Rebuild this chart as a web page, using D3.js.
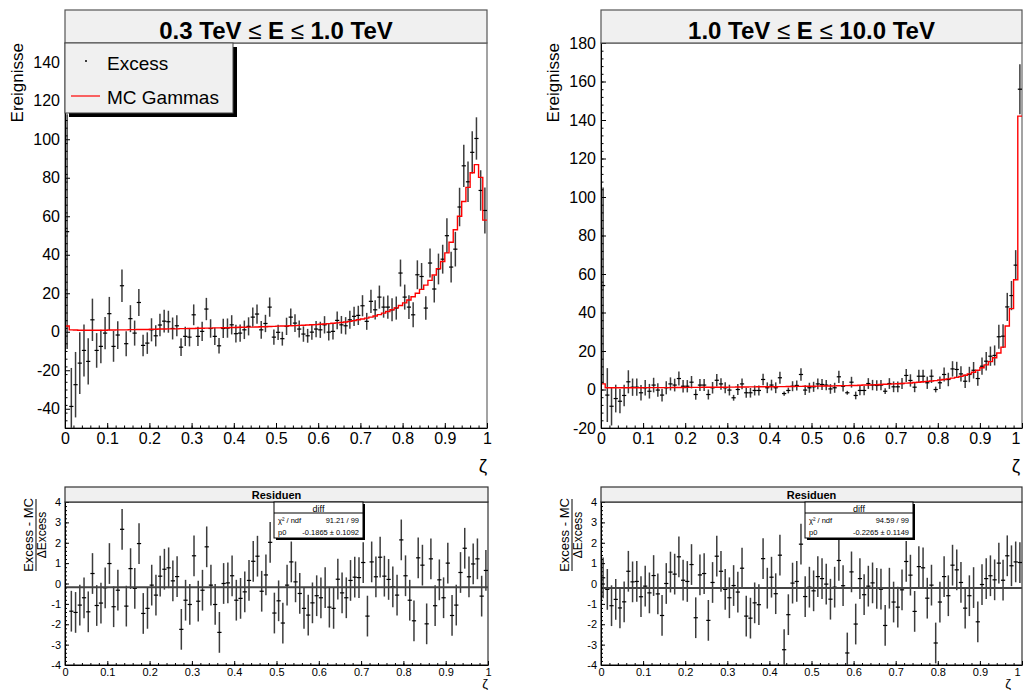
<!DOCTYPE html>
<html><head><meta charset="utf-8">
<script src="https://cdn.jsdelivr.net/npm/d3@7"></script>
<style>
body{margin:0;background:#fff}
svg{display:block}
text{font-family:"Liberation Sans",Arial,Helvetica,sans-serif;fill:#000}
</style>
</head><body>
<svg id="c" width="1024" height="690"></svg>
<script>
// ---------- data ----------
const binWidth = 0.01;
const zetaBins = d3.range(100).map(i => +((i + 0.5) * binWidth).toFixed(3)); // bin centres of ζ
const xTickValues = [0, 0.1, 0.2, 0.3, 0.4, 0.5, 0.6, 0.7, 0.8, 0.9, 1];
const lowYTicks = [-40, -20, 0, 20, 40, 60, 80, 100, 120, 140];
const highYTicks = [-20, 0, 20, 40, 60, 80, 100, 120, 140, 160, 180];
const residYTicks = [-4, -3, -2, -1, 0, 1, 2, 3, 4];

const lowTitle = "0.3 TeV ≤ E ≤ 1.0 TeV";
const highTitle = "1.0 TeV ≤ E ≤ 10.0 TeV";

const lowExcess = [52,-38.8,-27.5,-16.3,-9.7,-15.4,6.2,-9.7,-7.6,-0.7,
9.4,-7.6,-1.7,23.9,-6.2,6.8,-0.7,15.2,-7.1,-5.9,
1.0,-2.1,3.5,5.5,5.2,1.7,3.1,-8.0,-2.4,-2.8,
8.8,-2.4,0.2,11.8,1.7,-2.4,-7.3,1.7,1.9,3.6,
-1.0,-0.7,1.0,2.8,7.6,9.2,1.0,4.3,12.8,-2.8,
-0.3,-3.6,2.8,7.6,4.5,1.4,-1.2,-2.1,-0.2,1.4,
1.0,3.6,-0.2,0.2,5.9,3.6,3.1,6.2,8.0,8.5,
13.5,5.4,15.8,11.4,18.0,12.8,12.8,11.4,12.3,30.5,
18.0,12.8,8.8,29.6,28.7,12.3,35.7,22.2,32.6,37.7,
49.9,33.6,42.9,64.8,86.2,77.9,93.2,100.4,73.4,63];
const lowErr = [61,20,17,16,13.5,12,11,9,8.7,8.4,
8.7,8,7.2,8.5,6.5,7,6.5,7,5.6,5.6,
6,5.5,5.8,5.9,5.7,5.7,5.5,4.6,5,4.8,
5.4,5,5,5.8,4.8,4.5,4,5,5,5,
4.6,4.5,4.8,4.7,5,5,4.6,4.5,5,4,
4,3.6,4.5,4.5,4.6,4.4,4,3.6,4,4.2,
4.2,4.5,4.3,4.2,4.6,4.6,4.5,4.7,5,5,
5.5,4.4,6,5,6,5.5,6,6,6,7,
6.5,6.2,6.5,7.5,7,6.1,7.5,7,8,7.5,
9,8,9,10,11,10.5,11,11,10.5,12];
const lowMC = [3.0,1.0,0.9,0.8,0.8,0.8,0.8,0.8,0.8,0.8,
0.9,0.9,1.0,1.0,1.0,1.1,1.1,1.2,1.2,1.2,
1.3,1.3,1.4,1.4,1.5,1.5,1.5,1.6,1.6,1.7,
1.7,1.8,1.8,1.9,1.9,2.0,2.0,2.1,2.1,2.2,
2.2,2.3,2.3,2.4,2.4,2.5,2.6,2.6,2.7,2.8,
2.9,3.0,3.0,3.1,3.2,3.3,3.4,3.5,3.6,3.7,
3.9,4.0,4.2,4.4,4.6,4.8,5.1,5.4,5.8,6.2,
6.6,7.1,7.6,8.2,8.9,9.7,10.5,11.4,12.4,13.6,
15.0,16.5,18.2,20.0,22.0,24.2,26.7,29.5,32.8,36.5,
41.0,46.5,53.0,60.0,67.7,75.0,82.6,86.8,80.2,58.0];
const lowResid = [null,-1.36,-1.42,-1.06,-0.70,-1.39,0.49,-1.08,-0.96,-0.21,
0.98,-1.14,-0.33,2.66,-1.11,0.73,-0.24,1.96,-1.47,-1.22,
-0.08,-0.57,0.36,0.70,0.77,0.13,0.34,-2.25,-0.82,-1.03,
1.36,-0.87,-0.33,1.80,-0.08,-1.03,-2.40,0.0,0.03,0.38,
-0.82,-0.73,-0.41,0.15,1.09,1.34,-0.38,0.42,2.02,-1.45,
-0.85,-1.94,-0.08,1.06,0.08,-0.49,-1.22,-1.55,-0.95,-0.60,
-0.70,-0.20,-1.16,-1.22,0.21,-0.46,-0.70,0.15,0.31,0.29,
1.03,-1.60,1.06,0.33,1.29,0.36,0.20,-0.16,-0.57,2.14,
0.38,-0.82,-1.83,1.26,0.90,-1.98,1.21,-1.09,0.18,-0.70,
1.00,-1.57,-1.06,0.54,1.73,0.33,0.96,1.21,-0.62,0.64];
const lowFit = { chi2: "91.21 / 99", p0: -0.1865, p0Text: "-0.1865 ± 0.1092" };

const highExcess = [54,-2.9,-8.7,-4.7,-6.1,-3.1,4.0,1.2,1.2,-1.7,
0.9,-0.9,2.3,-0.3,-2.9,0.9,2.9,2.3,5.7,1.7,
1.7,3.8,-2.6,2.3,2.3,-2.6,0.9,4.8,2.9,0.9,
-0.3,-4.3,0.0,2.9,-1.7,-1.7,-0.5,-0.5,5.2,0.9,
2.3,0.9,6.1,-2.1,-0.5,1.7,2.1,7.8,-0.3,0.9,
1.4,2.9,2.6,2.3,0.3,0.9,6.6,1.7,-1.7,3.8,
-3.1,-0.5,-0.5,3.1,2.3,2.1,2.3,-0.9,3.1,1.4,
1.4,3.1,7.3,4.7,1.2,6.9,6.9,3.5,6.9,0.0,
3.5,7.8,5.2,10.7,10.4,8.1,4.3,7.8,10.0,5.7,
12.1,14.7,17.3,17.7,27.4,27.7,42.9,48.8,64.6,156];
const highErr = [51,14,10,7.2,6.3,5.6,6,4.5,4.5,4,
4,3.8,3.8,3.5,3.3,3.4,3.4,3.3,3.6,3.2,
3.2,3.2,2.7,3.1,3.1,2.6,3,3.2,3,2.9,
2.8,1.5,2.8,2.8,2.6,2.5,2.6,2.6,3,2.8,
2.8,2.8,3.1,1.1,1.5,2.6,2.6,3.2,2.5,2.6,
2.6,2.8,2.8,2.7,2.5,2.6,3.2,2.7,1.0,2.8,
2,2.5,2.5,2.8,2.7,2.7,2.7,1.5,2.8,2.8,
2.8,2.9,3.4,3.2,2.6,3.4,3.4,3.2,3.5,1.5,
3.3,3.6,3.5,4,4,4,3.5,4,4.3,3.8,
4.5,4.8,5,5.2,6.2,6.2,7.3,7.6,7.8,13];
const highMC = [2.9,0.9,0.9,0.9,0.9,0.9,0.9,0.9,0.9,0.9,
0.95,0.95,0.95,1.0,1.0,1.0,1.0,1.05,1.05,1.05,
1.1,1.1,1.1,1.1,1.15,1.15,1.15,1.2,1.2,1.2,
1.25,1.25,1.3,1.3,1.3,1.35,1.35,1.4,1.4,1.4,
1.45,1.45,1.5,1.5,1.55,1.55,1.6,1.6,1.65,1.7,
1.7,1.75,1.8,1.8,1.85,1.9,1.95,2.0,2.0,2.1,
2.1,2.2,2.3,2.3,2.4,2.5,2.6,2.7,2.8,2.9,
3.0,3.1,3.3,3.4,3.6,3.8,4.0,4.2,4.4,4.6,
4.9,5.2,5.5,5.9,6.3,6.8,7.4,8.1,9.0,10.0,
11.3,12.8,14.5,16.5,19.0,22.0,33.0,42.0,57.0,142.0];
const highResid = [0.28,-0.29,-1.09,-0.78,-1.2,-0.9,0.6,0.08,0.1,-0.65,
-0.13,-0.46,0.39,-0.51,-1.57,0.0,0.56,0.46,1.31,0.16,
0.1,0.93,-1.68,0.42,0.49,-1.81,0.05,1.34,0.6,-0.29,
-0.7,-0.1,-0.42,0.75,-1.6,-1.7,-0.95,-1.04,1.22,-0.23,
0.31,-0.5,1.39,-3.25,-1.53,0.02,0.1,1.93,-0.64,-0.18,
-0.36,0.34,0.24,-0.03,-0.77,-0.18,1.13,-0.11,-3.41,0.57,
-1.99,0.24,-0.55,-0.13,0.03,-0.24,-0.28,-2.06,-0.23,-0.91,
-1.16,-0.31,1.08,0.41,-1.37,0.83,0.77,-0.72,-0.08,-2.92,
-0.91,0.34,-0.6,0.9,0.67,0.05,-1.21,-0.6,-0.2,-1.88,
-0.05,0.24,0.38,0.18,1.0,0.16,1.36,0.87,1.06,1.03];
const highFit = { chi2: "94.59 / 99", p0: -0.2265, p0Text: "-0.2265 ± 0.1149" };

// ---------- drawing ----------
const svg = d3.select('#c');
const ERR_COL = '#3c3c3c';

function styleAxis(ax, fontSize) {
  ax.selectAll('path.domain').attr('stroke', '#000').attr('stroke-width', 1);
  ax.selectAll('.tick line').attr('stroke', '#000').attr('stroke-width', 1);
  ax.selectAll('.tick text').style('font-size', fontSize + 'px').attr('fill', '#000')
    .style('font-family', '"Liberation Sans",Arial,sans-serif');
}

function drawAxes(g, x, y, yTicks, o) {
  const yMinor = [];
  const step = o.yMinorStep;
  for (let v = o.yMin; v <= o.yMax + 1e-9; v = +(v + step).toFixed(4)) yMinor.push(v);
  const xMinor = d3.range(0, 51).map(i => i / 50);
  g.append('g').attr('transform', `translate(${o.left},0)`)
    .call(d3.axisLeft(y).tickValues(yMinor).tickSizeInner(-o.minor).tickSizeOuter(0).tickFormat(''))
    .call(a => { a.select('path.domain').remove(); a.selectAll('line').attr('stroke', '#000'); });
  g.append('g').attr('transform', `translate(0,${o.bottom})`)
    .call(d3.axisBottom(x).tickValues(xMinor).tickSizeInner(-o.minor).tickSizeOuter(0).tickFormat(''))
    .call(a => { a.select('path.domain').remove(); a.selectAll('line').attr('stroke', '#000'); });
  const ay = g.append('g').attr('transform', `translate(${o.left},0)`)
    .call(d3.axisLeft(y).tickValues(yTicks).tickSizeInner(-o.major).tickSizeOuter(0).tickPadding(o.yPad).tickFormat(d => String(d)));
  styleAxis(ay, o.font);
  const ax = g.append('g').attr('transform', `translate(0,${o.bottom})`)
    .call(d3.axisBottom(x).tickValues(xTickValues).tickSizeInner(-o.major).tickSizeOuter(0).tickPadding(o.xPad).tickFormat(d => String(d)));
  styleAxis(ax, o.font);
  // keep the last label inside the page for panels at the right edge
  if (o.edge) ax.selectAll('.tick text').filter(d => d === 1).attr('text-anchor', 'end').attr('dx', -2);
}

function titleText(g, str, cx, cy, size) {
  const t = g.append('text').attr('x', cx).attr('y', cy).attr('text-anchor', 'middle')
    .style('font-size', size + 'px').style('font-weight', 'bold');
  const parts = str.split('≤');
  parts.forEach((p, i) => {
    t.append('tspan').text(p);
    if (i < parts.length - 1) t.append('tspan').style('font-weight', 'normal').text('≤');
  });
}

function drawPoints(layer, x, y, vals, errs) {
  const pts = zetaBins.map((z, i) => ({ z, v: vals[i], e: errs[i] })).filter(d => d.v != null);
  layer.selectAll(null).data(pts).join('line')
    .attr('x1', d => x(d.z)).attr('x2', d => x(d.z))
    .attr('y1', d => y(d.v - d.e)).attr('y2', d => y(d.v + d.e))
    .attr('stroke', ERR_COL).attr('stroke-width', 1.5);
  layer.selectAll(null).data(pts).join('line')
    .attr('x1', d => x(d.z - binWidth / 2)).attr('x2', d => x(d.z + binWidth / 2))
    .attr('y1', d => y(d.v)).attr('y2', d => y(d.v))
    .attr('stroke', '#000').attr('stroke-width', 1.2);
}

function mainPanel(o) {
  const x = d3.scaleLinear([0, 1], [o.left, o.right]);
  const y = d3.scaleLinear([o.yMin, o.yMax], [o.bottom, o.top]);
  const g = svg.append('g');
  svg.append('clipPath').attr('id', o.id).append('rect')
    .attr('x', o.left).attr('y', o.top).attr('width', o.right - o.left).attr('height', o.bottom - o.top);
  g.append('rect').attr('x', o.left).attr('y', o.top).attr('width', o.right - o.left).attr('height', o.bottom - o.top)
    .attr('fill', '#fff').attr('stroke', '#666').attr('stroke-width', 1.2);
  const layer = g.append('g').attr('clip-path', `url(#${o.id})`);
  drawPoints(layer, x, y, o.values, o.errors);
  const steps = zetaBins.map((z, i) => [z - binWidth / 2, o.mc[i]]);
  steps.push([1, o.mc[o.mc.length - 1]]);
  layer.append('path').datum(steps)
    .attr('d', d3.line().x(d => x(d[0])).y(d => y(d[1])).curve(d3.curveStepAfter))
    .attr('fill', 'none').attr('stroke', '#ff0000').attr('stroke-width', 1.4);
  drawAxes(g, x, y, o.yTicks, { left: o.left, bottom: o.bottom, yMin: o.yMin, yMax: o.yMax, yMinorStep: 4,
    major: 5, minor: 2.5, yPad: 5, xPad: 5, font: 16, edge: o.right > 1000 });
  g.append('rect').attr('x', o.left).attr('y', 10).attr('width', o.right - o.left).attr('height', o.top - 10)
    .attr('fill', '#f0f0f0').attr('stroke', '#555').attr('stroke-width', 1.2);
  titleText(g, o.title, (o.left + o.right) / 2, 39, 24);
  g.append('text').attr('transform', `translate(${o.left - 42},${o.top}) rotate(-90)`).attr('text-anchor', 'end')
    .style('font-size', '17px').text('Ereignisse');
  g.append('text').attr('x', Math.min(o.right - 4, 1016)).attr('y', 472).attr('text-anchor', 'middle')
    .style('font-size', '19px').text('ζ');
  return { g, x, y };
}

function residPanel(o) {
  const top = 502, bottom = 665, frameTop = 487;
  const x = d3.scaleLinear([0, 1], [o.left, o.right]);
  const y = d3.scaleLinear([-4, 4], [bottom, top]);
  const g = svg.append('g');
  svg.append('clipPath').attr('id', o.id).append('rect')
    .attr('x', o.left).attr('y', top).attr('width', o.right - o.left).attr('height', bottom - top);
  g.append('rect').attr('x', o.left).attr('y', top).attr('width', o.right - o.left).attr('height', bottom - top)
    .attr('fill', '#fff').attr('stroke', '#333').attr('stroke-width', 1.2);
  const layer = g.append('g').attr('clip-path', `url(#${o.id})`);
  drawPoints(layer, x, y, o.values, o.values.map(() => 1));
  layer.append('line').attr('x1', o.left).attr('x2', o.right).attr('y1', y(o.fit.p0)).attr('y2', y(o.fit.p0))
    .attr('stroke', '#444').attr('stroke-width', 2);
  drawAxes(g, x, y, residYTicks, { left: o.left, bottom, yMin: -4, yMax: 4, yMinorStep: 0.2,
    major: 4, minor: 2, yPad: 4, xPad: 3, font: 11, edge: o.right > 1000 });
  g.append('rect').attr('x', o.left).attr('y', frameTop).attr('width', o.right - o.left).attr('height', top - frameTop)
    .attr('fill', '#f0f0f0').attr('stroke', '#333').attr('stroke-width', 1.2);
  g.append('text').attr('x', (o.left + o.right) / 2).attr('y', 499).attr('text-anchor', 'middle')
    .style('font-size', '11px').style('font-weight', 'bold').text('Residuen');
  const sx = o.statsX, sw = o.statsW, sy = 502, sh = 36;
  g.append('rect').attr('x', sx + 2).attr('y', sy + 2).attr('width', sw).attr('height', sh).attr('fill', '#000');
  g.append('rect').attr('x', sx).attr('y', sy).attr('width', sw).attr('height', sh)
    .attr('fill', '#fff').attr('stroke', '#000').attr('stroke-width', 1);
  g.append('line').attr('x1', sx).attr('x2', sx + sw).attr('y1', sy + 11).attr('y2', sy + 11).attr('stroke', '#000');
  g.append('text').attr('x', sx + sw / 2).attr('y', sy + 9.5).attr('text-anchor', 'middle').style('font-size', '9px').text('diff');
  g.append('text').attr('x', sx + 4).attr('y', sy + 21).style('font-size', '7.5px').text('χ² / ndf');
  g.append('text').attr('x', sx + sw - 4).attr('y', sy + 21).attr('text-anchor', 'end').style('font-size', '7.5px').text(o.fit.chi2);
  g.append('text').attr('x', sx + 4).attr('y', sy + 33).style('font-size', '7.5px').text('p0');
  g.append('text').attr('x', sx + sw - 4).attr('y', sy + 33).attr('text-anchor', 'end').style('font-size', '7.5px').text(o.fit.p0Text);
  const cx = o.left - 32, cy = 535;
  const yt = g.append('g').attr('transform', `translate(${cx},${cy}) rotate(-90)`);
  yt.append('text').attr('x', 0).attr('y', 0).attr('text-anchor', 'middle').style('font-size', '13px').text('Excess - MC');
  yt.append('line').attr('x1', -36).attr('x2', 36).attr('y1', 3).attr('y2', 3).attr('stroke', '#000').attr('stroke-width', 1);
  yt.append('text').attr('x', 0).attr('y', 13).attr('text-anchor', 'middle').style('font-size', '12px').text('ΔExcess');
  const zx = o.right > 1000 ? 1008 : o.right - 3;
  g.append('text').attr('x', zx).attr('y', 688).attr('text-anchor', 'middle').style('font-size', '13px').text('ζ');
}

mainPanel({ id: 'clipTL', left: 65, right: 487, top: 43, bottom: 428, yMin: -50, yMax: 150,
  yTicks: lowYTicks, values: lowExcess, errors: lowErr, mc: lowMC, title: lowTitle });
mainPanel({ id: 'clipTR', left: 601, right: 1022, top: 43, bottom: 428, yMin: -20, yMax: 180,
  yTicks: highYTicks, values: highExcess, errors: highErr, mc: highMC, title: highTitle });

const leg = svg.append('g');
leg.append('rect').attr('x', 69).attr('y', 47).attr('width', 168).attr('height', 70).attr('fill', '#000');
leg.append('rect').attr('x', 65).attr('y', 43).attr('width', 168).attr('height', 70)
  .attr('fill', '#f0f0f0').attr('stroke', '#444').attr('stroke-width', 1);
leg.append('circle').attr('cx', 86).attr('cy', 61).attr('r', 1).attr('fill', '#000');
leg.append('text').attr('x', 107).attr('y', 70).style('font-size', '19px').text('Excess');
leg.append('line').attr('x1', 71).attr('x2', 100).attr('y1', 96).attr('y2', 96).attr('stroke', '#ff0000').attr('stroke-width', 1.2);
leg.append('text').attr('x', 107).attr('y', 104).style('font-size', '19px').text('MC Gammas');

residPanel({ id: 'clipBL', left: 65, right: 488, values: lowResid, fit: lowFit, statsX: 274, statsW: 89 });
residPanel({ id: 'clipBR', left: 601, right: 1022, values: highResid, fit: highFit, statsX: 805, statsW: 108 });
</script>
</body></html>
